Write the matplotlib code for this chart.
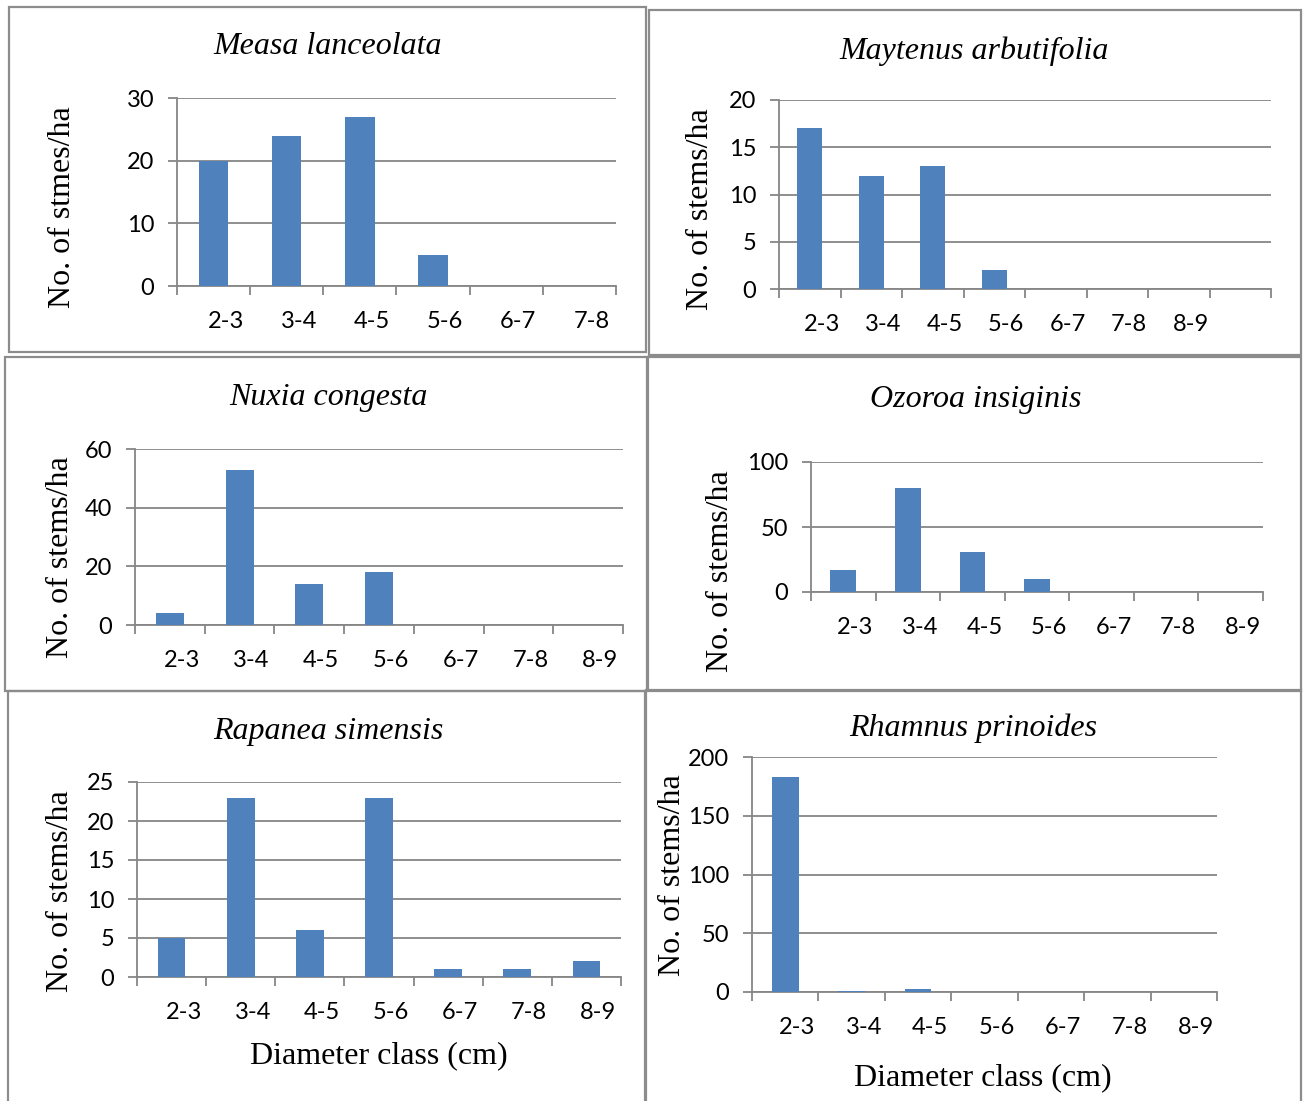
import numpy as np
import matplotlib
matplotlib.use("Agg")
import matplotlib.pyplot as plt
from matplotlib.patches import Rectangle
from matplotlib.transforms import ScaledTranslation

# ---------------- data ----------------
categories = ['2-3', '3-4', '4-5', '5-6', '6-7', '7-8', '8-9']

measa_values = [20, 24, 27, 5, 0, 0]
maytenus_values = [17, 12, 13, 2, 0, 0, 0]
nuxia_values = [4, 53, 14, 18, 0, 0, 0]
ozoroa_values = [17, 80, 31, 10, 0, 0, 0]
rapanea_values = [5, 23, 6, 23, 1, 1, 2]
rhamnus_values = [183, 1, 2.5, 0, 0, 0, 0]

titles = ['Measa lanceolata', 'Maytenus arbutifolia', 'Nuxia congesta',
          'Ozoroa insiginis', 'Rapanea simensis', 'Rhamnus prinoides']
ylabels = ['No. of stmes/ha', 'No. of stems/ha', 'No. of stems/ha',
           'No. of stems/ha', 'No. of stems/ha', 'No. of stems/ha']
xlabel_text = 'Diameter class (cm)'

y_max = [30, 20, 60, 100, 25, 200]
y_step = [10, 5, 20, 50, 5, 50]

series = [measa_values, maytenus_values, nuxia_values,
          ozoroa_values, rapanea_values, rhamnus_values]

# ---------------- layout (pixels) ----------------
W, H = 1303, 1101
fig = plt.figure(figsize=(W / 100, H / 100), dpi=100)

BAR = '#4F81BD'
GRID = '#868686'
BORDER = '#8c8c8c'
SERIF = 'Liberation Serif'
SANS = 'Lato'

# box (l, t, r, b), axes (l, t, r, b), n slots, title (x, y), ylabel (x, y)
layout = [
    dict(box=(9, 7, 646, 352), ax=(177, 98, 616, 286), slots=6,
         title=(328, 47), ylab=(63, 207)),
    dict(box=(649, 10, 1301, 355), ax=(779, 100, 1271, 289), slots=8,
         title=(974, 51), ylab=(700, 209)),
    dict(box=(5, 357, 647, 691), ax=(135, 449, 623, 625), slots=7,
         title=(328, 398), ylab=(60, 557)),
    dict(box=(648, 357, 1301, 691), ax=(811, 462, 1263, 592), slots=7,
         title=(976, 399), ylab=(720, 571)),
    dict(box=(8, 691, 645, 1110), ax=(137, 782, 621, 977), slots=7,
         title=(328, 732), ylab=(60, 891), xlab=(379, 1056)),
    dict(box=(646, 690, 1301, 1110), ax=(752, 757, 1217, 992), slots=7,
         title=(973, 728), ylab=(672, 875), xlab=(983, 1078)),
]

def px_rect(l, t, r, b):
    return [l / W, 1 - b / H, (r - l) / W, (b - t) / H]

for i, spec in enumerate(layout):
    # panel border
    l, t, r, b = spec['box']
    fig.patches.append(Rectangle((l / W, 1 - b / H), (r - l) / W, (b - t) / H,
                                 transform=fig.transFigure, fill=False,
                                 edgecolor=BORDER, linewidth=1.6))

    ax = fig.add_axes(px_rect(*spec['ax']))
    vals = series[i]
    x = np.arange(len(vals))
    ax.bar(x, vals, width=0.4, color=BAR, zorder=3, linewidth=0)

    n = spec['slots']
    ax.set_xlim(-0.5, n - 0.5)
    ax.set_ylim(0, y_max[i])
    ax.set_yticks(np.arange(0, y_max[i] + 0.1, y_step[i]))
    ax.set_xticks(x)
    ax.set_xticklabels(categories[:len(vals)])
    ax.set_xticks(np.arange(-0.5, n), minor=True)

    ax.grid(axis='y', color=GRID, linewidth=1.3, zorder=0)
    ax.set_axisbelow(True)
    for s in ['top', 'right']:
        ax.spines[s].set_visible(False)
    for s in ['left', 'bottom']:
        ax.spines[s].set_color(GRID)
        ax.spines[s].set_linewidth(1.3)

    ax.tick_params(axis='x', which='major', length=0, pad=18,
                   labelsize=17, labelcolor='black')
    ax.tick_params(axis='x', which='minor', length=6.5, width=1.3,
                   color=GRID, direction='out')
    ax.tick_params(axis='y', which='major', length=6.5, width=1.3,
                   color=GRID, direction='out', pad=10,
                   labelsize=17, labelcolor='black')
    for lab in ax.get_xticklabels() + ax.get_yticklabels():
        lab.set_fontfamily(SANS)
    offset = ScaledTranslation(0.12, 0, fig.dpi_scale_trans)
    for lab in ax.get_xticklabels():
        lab.set_transform(lab.get_transform() + offset)

    tx, ty = spec['title']
    fig.text(tx / W, 1 - ty / H, titles[i], family=SERIF, style='italic',
             fontsize=23, ha='center', va='center')
    yx, yy = spec['ylab']
    fig.text(yx / W, 1 - yy / H, ylabels[i], family=SERIF, fontsize=23,
             rotation=90, ha='center', va='center')
    if 'xlab' in spec:
        xx, xy = spec['xlab']
        fig.text(xx / W, 1 - xy / H, xlabel_text, family=SERIF, fontsize=23,
                 ha='center', va='center')

fig.savefig('out.png', dpi=100, facecolor='white')
